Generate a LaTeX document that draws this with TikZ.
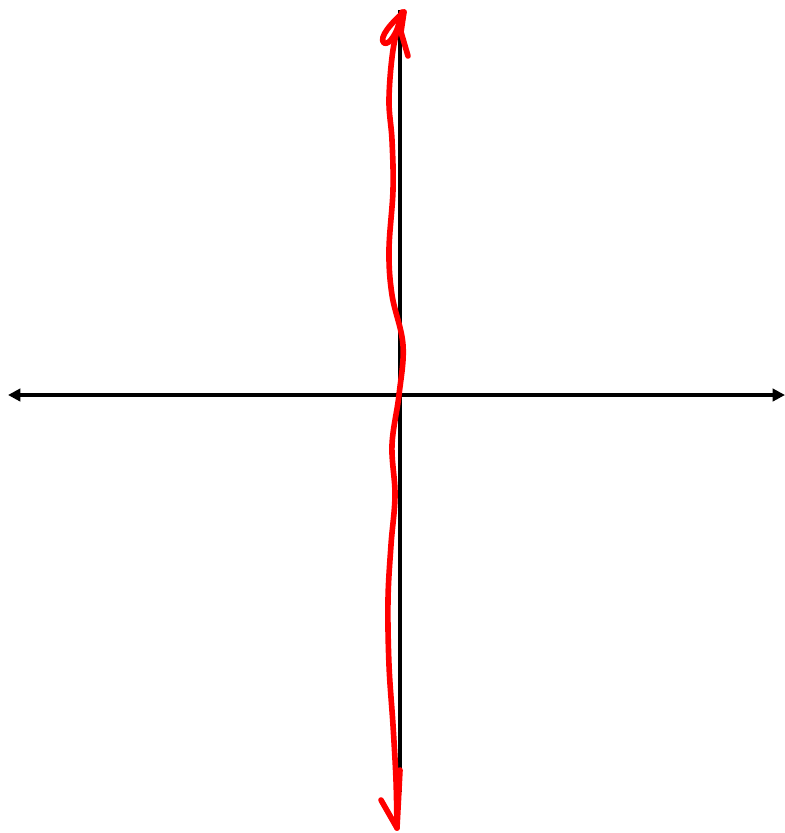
\documentclass[tikz,border=0pt]{standalone}
\usetikzlibrary{arrows.meta}

\begin{document}
\begin{tikzpicture}[
        x=0.02cm, y=-0.02cm,
        axis/.style={line width=2.6pt, black},
        wiggle/.style={line width=3.2pt, red, line cap=round, line join=round}
    ]
        \useasboundingbox (0,0) rectangle (785,833);
        % axes
        \coordinate (xl) at (8,395);
        \coordinate (xr) at (785,395);
        \coordinate (yt) at (400,10);
        \coordinate (yb) at (400,792);
        \draw[axis, {Triangle[length=7pt,width=7pt]}-{Triangle[length=7pt,width=7pt]}] (xl) -- (xr);
        \draw[axis] (yt) -- (yb);
        % hand drawn curve
        \draw[wiggle] plot[smooth, tension=0.6] coordinates {
            (402,12) (393,50) (389,100) (392,140) (393,190) (389,250)
            (392,295) (403,345) (399,395) (392,445) (395,495) (391,545)
            (388,600) (389,665) (393,725) (396,780) (397,828)};
        % arrow heads drawn by hand
        \draw[wiggle] (408,56) -- (401,32) -- (404,12);
        \draw[wiggle] (404,12) .. controls (392,22) and (378,38) .. (384,43)
            .. controls (390,46) and (398,30) .. (402,16);
        \draw[wiggle] (381,800) -- (397,828) -- (400,770);
    \end{tikzpicture}
\end{document}
